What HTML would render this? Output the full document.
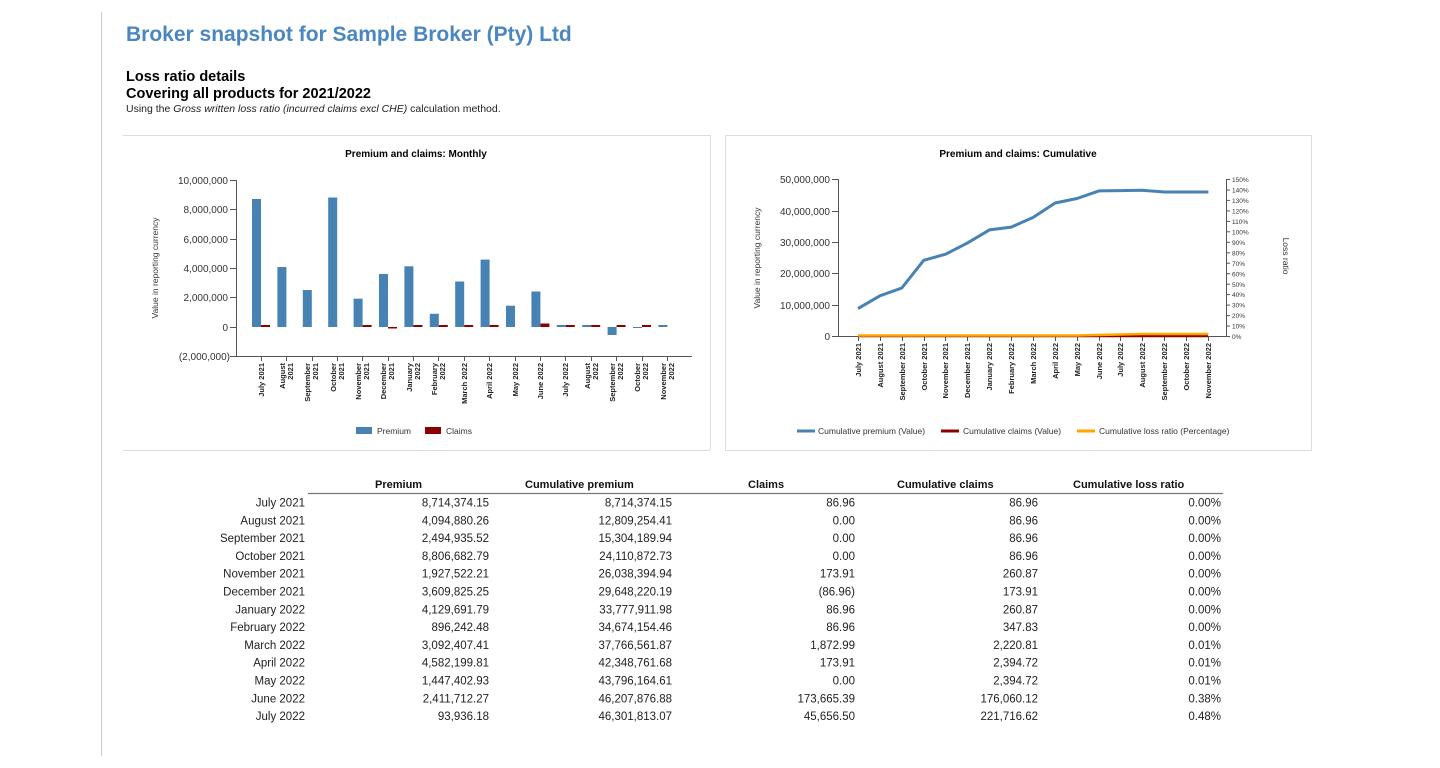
<!DOCTYPE html>
<html><head><meta charset="utf-8"><style>
body{margin:0;background:#fff;}
svg{display:block;font-family:"Liberation Sans",Arial,sans-serif;}
</style></head><body>
<svg width="1440" height="768" viewBox="0 0 1440 768" xmlns="http://www.w3.org/2000/svg">
<rect width="1440" height="768" fill="#fff"/>
<line x1="101.5" y1="12" x2="101.5" y2="756" stroke="#ccc"/>
<text x="126" y="41" font-size="21" font-weight="bold" fill="#4a86bf">Broker snapshot for Sample Broker (Pty) Ltd</text>
<text x="126" y="81" font-size="14.5" font-weight="bold">Loss ratio details</text>
<text x="126" y="98" font-size="14.5" font-weight="bold">Covering all products for 2021/2022</text>
<text x="126" y="112" font-size="10.5" fill="#222">Using the <tspan font-style="italic">Gross written loss ratio (incurred claims excl CHE)</tspan> calculation method.</text>

<!-- LEFT CHART -->
<line x1="123" y1="135.5" x2="710" y2="135.5" stroke="#ddd"/>
<line x1="123" y1="450.5" x2="710" y2="450.5" stroke="#ddd"/>
<line x1="710.5" y1="135" x2="710.5" y2="450" stroke="#ddd"/>
<text x="416" y="157" font-size="10" font-weight="bold" text-anchor="middle">Premium and claims: Monthly</text>
<text transform="translate(158,268) rotate(-90)" font-size="8.5" text-anchor="middle" fill="#333">Value in reporting currency</text>
<g font-size="10" text-anchor="end" fill="#333">
<text x="228" y="184">10,000,000</text><text x="228" y="213">8,000,000</text><text x="228" y="243">6,000,000</text><text x="228" y="272">4,000,000</text><text x="228" y="301">2,000,000</text><text x="228" y="331">0</text><text x="230" y="360">(2,000,000)</text>
</g>
<g stroke="#555"><line x1="236.5" y1="180" x2="236.5" y2="356"/><line x1="236" y1="356.5" x2="692" y2="356.5"/>
<line x1="230" y1="180.5" x2="236" y2="180.5"/><line x1="230" y1="209.5" x2="236" y2="209.5"/><line x1="230" y1="239.5" x2="236" y2="239.5"/><line x1="230" y1="268.5" x2="236" y2="268.5"/><line x1="230" y1="297.5" x2="236" y2="297.5"/><line x1="230" y1="327.5" x2="236" y2="327.5"/><line x1="230" y1="356.5" x2="236" y2="356.5"/></g>
<g fill="#4682b4">
<rect x="252" y="199" width="9" height="128"/><rect x="277.4" y="267" width="9" height="60"/><rect x="302.8" y="290" width="9" height="37"/><rect x="328.2" y="197.5" width="9" height="129.5"/><rect x="353.6" y="298.7" width="9" height="28.3"/><rect x="379" y="274" width="9" height="53"/><rect x="404.4" y="266.3" width="9" height="60.7"/><rect x="429.8" y="313.8" width="9" height="13.2"/><rect x="455.2" y="281.5" width="9" height="45.5"/><rect x="480.6" y="259.6" width="9" height="67.4"/><rect x="506" y="305.7" width="9" height="21.3"/><rect x="531.4" y="291.5" width="9" height="35.5"/><rect x="556.8" y="325" width="9" height="2"/><rect x="582.2" y="325" width="9" height="2"/><rect x="607.6" y="327" width="9" height="8"/><rect x="633" y="327" width="9" height="1"/><rect x="658.4" y="325" width="9" height="2"/>
</g>
<g fill="#8b0000">
<rect x="261" y="325" width="9" height="2"/><rect x="362.6" y="325" width="9" height="2"/><rect x="388" y="327" width="9" height="1.5"/><rect x="413.4" y="325" width="9" height="2"/><rect x="438.8" y="325" width="9" height="2"/><rect x="464.2" y="325" width="9" height="2"/><rect x="489.6" y="325" width="9" height="2"/><rect x="540.4" y="323.5" width="9" height="3.5"/><rect x="565.8" y="325" width="9" height="2"/><rect x="591.2" y="325" width="9" height="2"/><rect x="616.6" y="325" width="9" height="2"/><rect x="642" y="325" width="9" height="2"/>
</g>
<g stroke="#555"><line x1="261.5" y1="356" x2="261.5" y2="361"/><line x1="286.5" y1="356" x2="286.5" y2="361"/><line x1="312.5" y1="356" x2="312.5" y2="361"/><line x1="337.5" y1="356" x2="337.5" y2="361"/><line x1="362.5" y1="356" x2="362.5" y2="361"/><line x1="388.5" y1="356" x2="388.5" y2="361"/><line x1="413.5" y1="356" x2="413.5" y2="361"/><line x1="438.5" y1="356" x2="438.5" y2="361"/><line x1="464.5" y1="356" x2="464.5" y2="361"/><line x1="489.5" y1="356" x2="489.5" y2="361"/><line x1="515.5" y1="356" x2="515.5" y2="361"/><line x1="540.5" y1="356" x2="540.5" y2="361"/><line x1="565.5" y1="356" x2="565.5" y2="361"/><line x1="591.5" y1="356" x2="591.5" y2="361"/><line x1="616.5" y1="356" x2="616.5" y2="361"/><line x1="642.5" y1="356" x2="642.5" y2="361"/><line x1="667.5" y1="356" x2="667.5" y2="361"/></g>
<g font-size="7.5" font-weight="bold" text-anchor="end" fill="#222">
<text transform="translate(264,363) rotate(-90)">July 2021</text>
<text transform="translate(285,363) rotate(-90)">August</text><text transform="translate(293,363) rotate(-90)">2021</text>
<text transform="translate(310,363) rotate(-90)">September</text><text transform="translate(318,363) rotate(-90)">2021</text>
<text transform="translate(336,363) rotate(-90)">October</text><text transform="translate(344,363) rotate(-90)">2021</text>
<text transform="translate(361,363) rotate(-90)">November</text><text transform="translate(369,363) rotate(-90)">2021</text>
<text transform="translate(386,363) rotate(-90)">December</text><text transform="translate(394,363) rotate(-90)">2021</text>
<text transform="translate(412,363) rotate(-90)">January</text><text transform="translate(420,363) rotate(-90)">2022</text>
<text transform="translate(437,363) rotate(-90)">February</text><text transform="translate(445,363) rotate(-90)">2022</text>
<text transform="translate(467,363) rotate(-90)">March 2022</text>
<text transform="translate(492,363) rotate(-90)">April 2022</text>
<text transform="translate(518,363) rotate(-90)">May 2022</text>
<text transform="translate(543,363) rotate(-90)">June 2022</text>
<text transform="translate(568,363) rotate(-90)">July 2022</text>
<text transform="translate(590,363) rotate(-90)">August</text><text transform="translate(598,363) rotate(-90)">2022</text>
<text transform="translate(615,363) rotate(-90)">September</text><text transform="translate(623,363) rotate(-90)">2022</text>
<text transform="translate(640,363) rotate(-90)">October</text><text transform="translate(648,363) rotate(-90)">2022</text>
<text transform="translate(666,363) rotate(-90)">November</text><text transform="translate(674,363) rotate(-90)">2022</text>
</g>
<rect x="356" y="427" width="16" height="7" fill="#4682b4"/><text x="377" y="434" font-size="8.5" fill="#333">Premium</text>
<rect x="425" y="427" width="16" height="7" fill="#8b0000"/><text x="446" y="434" font-size="8.5" fill="#333">Claims</text>

<!-- RIGHT CHART -->
<rect x="725.5" y="135.5" width="586" height="315" fill="none" stroke="#ddd"/>
<text x="1018" y="157" font-size="10" font-weight="bold" text-anchor="middle">Premium and claims: Cumulative</text>
<text transform="translate(760,258) rotate(-90)" font-size="8.5" text-anchor="middle" fill="#333">Value in reporting currency</text>
<text transform="translate(1283,256) rotate(90)" font-size="8.5" text-anchor="middle" fill="#333">Loss ratio</text>
<g font-size="10" text-anchor="end" fill="#333">
<text x="830" y="183">50,000,000</text><text x="830" y="215">40,000,000</text><text x="830" y="246">30,000,000</text><text x="830" y="277">20,000,000</text><text x="830" y="309">10,000,000</text><text x="830" y="340">0</text>
</g>
<g stroke="#555"><line x1="838.5" y1="179" x2="838.5" y2="336"/><line x1="838" y1="336.5" x2="1226" y2="336.5"/><line x1="1226.5" y1="179" x2="1226.5" y2="336"/>
<line x1="832" y1="179.5" x2="838" y2="179.5"/><line x1="832" y1="211.5" x2="838" y2="211.5"/><line x1="832" y1="242.5" x2="838" y2="242.5"/><line x1="832" y1="273.5" x2="838" y2="273.5"/><line x1="832" y1="305.5" x2="838" y2="305.5"/><line x1="832" y1="336.5" x2="838" y2="336.5"/>
<line x1="1226" y1="179.5" x2="1230" y2="179.5"/><line x1="1226" y1="190" x2="1230" y2="190"/><line x1="1226" y1="200.4" x2="1230" y2="200.4"/><line x1="1226" y1="210.9" x2="1230" y2="210.9"/><line x1="1226" y1="221.4" x2="1230" y2="221.4"/><line x1="1226" y1="231.8" x2="1230" y2="231.8"/><line x1="1226" y1="242.3" x2="1230" y2="242.3"/><line x1="1226" y1="252.8" x2="1230" y2="252.8"/><line x1="1226" y1="263.2" x2="1230" y2="263.2"/><line x1="1226" y1="273.7" x2="1230" y2="273.7"/><line x1="1226" y1="284.2" x2="1230" y2="284.2"/><line x1="1226" y1="294.6" x2="1230" y2="294.6"/><line x1="1226" y1="305.1" x2="1230" y2="305.1"/><line x1="1226" y1="315.6" x2="1230" y2="315.6"/><line x1="1226" y1="326" x2="1230" y2="326"/><line x1="1226" y1="336.5" x2="1230" y2="336.5"/>
</g>
<g font-size="6.5" fill="#333">
<text x="1232" y="182">150%</text><text x="1232" y="192.5">140%</text><text x="1232" y="203">130%</text><text x="1232" y="213.4">120%</text><text x="1232" y="224">110%</text><text x="1232" y="234.4">100%</text><text x="1232" y="245">90%</text><text x="1232" y="255.4">80%</text><text x="1232" y="265.8">70%</text><text x="1232" y="276.3">60%</text><text x="1232" y="286.8">50%</text><text x="1232" y="297.2">40%</text><text x="1232" y="307.7">30%</text><text x="1232" y="318.2">20%</text><text x="1232" y="328.6">10%</text><text x="1232" y="339">0%</text>
</g>
<g stroke="#555"><line x1="858.5" y1="336" x2="858.5" y2="341"/><line x1="880.5" y1="336" x2="880.5" y2="341"/><line x1="902.5" y1="336" x2="902.5" y2="341"/><line x1="924.5" y1="336" x2="924.5" y2="341"/><line x1="945.5" y1="336" x2="945.5" y2="341"/><line x1="967.5" y1="336" x2="967.5" y2="341"/><line x1="989.5" y1="336" x2="989.5" y2="341"/><line x1="1011.5" y1="336" x2="1011.5" y2="341"/><line x1="1033.5" y1="336" x2="1033.5" y2="341"/><line x1="1055.5" y1="336" x2="1055.5" y2="341"/><line x1="1077.5" y1="336" x2="1077.5" y2="341"/><line x1="1099.5" y1="336" x2="1099.5" y2="341"/><line x1="1120.5" y1="336" x2="1120.5" y2="341"/><line x1="1142.5" y1="336" x2="1142.5" y2="341"/><line x1="1164.5" y1="336" x2="1164.5" y2="341"/><line x1="1186.5" y1="336" x2="1186.5" y2="341"/><line x1="1208.5" y1="336" x2="1208.5" y2="341"/></g>
<polyline fill="none" stroke="#8b0000" stroke-width="2.5" points="858,336 1208,336"/>
<polyline fill="none" stroke="#ffa500" stroke-width="2.5" points="858,335.5 1077,335.5 1098.9,335 1120.8,334.5 1142.7,334 1164.6,334 1208.4,334"/>
<polyline fill="none" stroke="#4682b4" stroke-width="3" stroke-linejoin="round" points="858,308.6 879.9,295.8 901.8,288 923.7,260.3 945.6,254.2 967.5,242.9 989.4,229.9 1011.3,227.1 1033.2,217.4 1055.1,203 1077,198.5 1098.9,190.9 1120.8,190.6 1142.7,190.3 1164.6,192 1186.5,192 1208.4,192"/>
<g font-size="7.5" font-weight="bold" text-anchor="end" fill="#222">
<text transform="translate(861,343) rotate(-90)">July 2021</text>
<text transform="translate(883,343) rotate(-90)">August 2021</text>
<text transform="translate(905,343) rotate(-90)">September 2021</text>
<text transform="translate(927,343) rotate(-90)">October 2021</text>
<text transform="translate(948,343) rotate(-90)">November 2021</text>
<text transform="translate(970,343) rotate(-90)">December 2021</text>
<text transform="translate(992,343) rotate(-90)">January 2022</text>
<text transform="translate(1014,343) rotate(-90)">February 2022</text>
<text transform="translate(1036,343) rotate(-90)">March 2022</text>
<text transform="translate(1058,343) rotate(-90)">April 2022</text>
<text transform="translate(1080,343) rotate(-90)">May 2022</text>
<text transform="translate(1102,343) rotate(-90)">June 2022</text>
<text transform="translate(1123,343) rotate(-90)">July 2022</text>
<text transform="translate(1145,343) rotate(-90)">August 2022</text>
<text transform="translate(1167,343) rotate(-90)">September 2022</text>
<text transform="translate(1189,343) rotate(-90)">October 2022</text>
<text transform="translate(1211,343) rotate(-90)">November 2022</text>
</g>
<line x1="797" y1="431" x2="815" y2="431" stroke="#4682b4" stroke-width="3"/><text x="818" y="434" font-size="8.5" fill="#333">Cumulative premium (Value)</text>
<line x1="941" y1="431" x2="959" y2="431" stroke="#8b0000" stroke-width="3"/><text x="963" y="434" font-size="8.5" fill="#333">Cumulative claims (Value)</text>
<line x1="1077" y1="431" x2="1095" y2="431" stroke="#ffa500" stroke-width="3"/><text x="1099" y="434" font-size="8.5" fill="#333">Cumulative loss ratio (Percentage)</text>

<!-- TABLE -->
<g font-size="11" font-weight="bold" fill="#111">
<text x="375" y="488">Premium</text><text x="525" y="488">Cumulative premium</text><text x="748" y="488">Claims</text><text x="897" y="488">Cumulative claims</text><text x="1073" y="488">Cumulative loss ratio</text>
</g>
<line x1="308" y1="493.5" x2="1223" y2="493.5" stroke="#777" stroke-width="1.3"/>
<g font-size="11.5" fill="#222" text-anchor="end">
<g transform="translate(0,506.5)"><text x="305">July 2021</text><text x="489">8,714,374.15</text><text x="672">8,714,374.15</text><text x="855">86.96</text><text x="1038">86.96</text><text x="1221">0.00%</text></g>
<g transform="translate(0,524.3)"><text x="305">August 2021</text><text x="489">4,094,880.26</text><text x="672">12,809,254.41</text><text x="855">0.00</text><text x="1038">86.96</text><text x="1221">0.00%</text></g>
<g transform="translate(0,542.1)"><text x="305">September 2021</text><text x="489">2,494,935.52</text><text x="672">15,304,189.94</text><text x="855">0.00</text><text x="1038">86.96</text><text x="1221">0.00%</text></g>
<g transform="translate(0,559.9)"><text x="305">October 2021</text><text x="489">8,806,682.79</text><text x="672">24,110,872.73</text><text x="855">0.00</text><text x="1038">86.96</text><text x="1221">0.00%</text></g>
<g transform="translate(0,577.7)"><text x="305">November 2021</text><text x="489">1,927,522.21</text><text x="672">26,038,394.94</text><text x="855">173.91</text><text x="1038">260.87</text><text x="1221">0.00%</text></g>
<g transform="translate(0,595.5)"><text x="305">December 2021</text><text x="489">3,609,825.25</text><text x="672">29,648,220.19</text><text x="855">(86.96)</text><text x="1038">173.91</text><text x="1221">0.00%</text></g>
<g transform="translate(0,613.3)"><text x="305">January 2022</text><text x="489">4,129,691.79</text><text x="672">33,777,911.98</text><text x="855">86.96</text><text x="1038">260.87</text><text x="1221">0.00%</text></g>
<g transform="translate(0,631.1)"><text x="305">February 2022</text><text x="489">896,242.48</text><text x="672">34,674,154.46</text><text x="855">86.96</text><text x="1038">347.83</text><text x="1221">0.00%</text></g>
<g transform="translate(0,648.9)"><text x="305">March 2022</text><text x="489">3,092,407.41</text><text x="672">37,766,561.87</text><text x="855">1,872.99</text><text x="1038">2,220.81</text><text x="1221">0.01%</text></g>
<g transform="translate(0,666.7)"><text x="305">April 2022</text><text x="489">4,582,199.81</text><text x="672">42,348,761.68</text><text x="855">173.91</text><text x="1038">2,394.72</text><text x="1221">0.01%</text></g>
<g transform="translate(0,684.5)"><text x="305">May 2022</text><text x="489">1,447,402.93</text><text x="672">43,796,164.61</text><text x="855">0.00</text><text x="1038">2,394.72</text><text x="1221">0.01%</text></g>
<g transform="translate(0,702.3)"><text x="305">June 2022</text><text x="489">2,411,712.27</text><text x="672">46,207,876.88</text><text x="855">173,665.39</text><text x="1038">176,060.12</text><text x="1221">0.38%</text></g>
<g transform="translate(0,720.1)"><text x="305">July 2022</text><text x="489">93,936.18</text><text x="672">46,301,813.07</text><text x="855">45,656.50</text><text x="1038">221,716.62</text><text x="1221">0.48%</text></g>
</g>
</svg>
</body></html>
